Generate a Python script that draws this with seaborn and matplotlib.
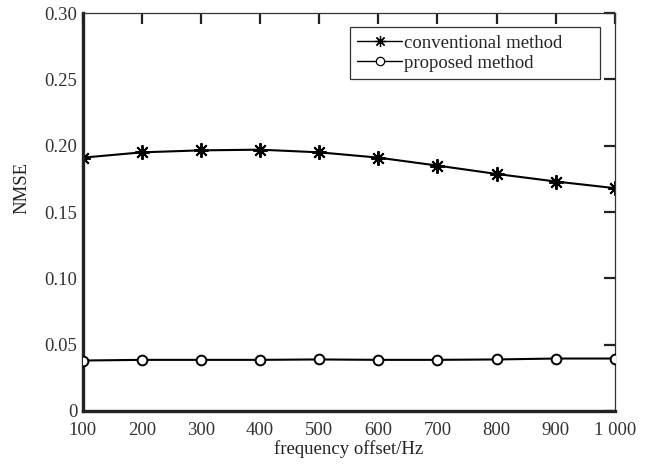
import matplotlib
matplotlib.use("Agg")
import matplotlib.pyplot as plt
import seaborn as sns
import pandas as pd

freq = [100, 200, 300, 400, 500, 600, 700, 800, 900, 1000]
conventional = [0.191, 0.195, 0.1965, 0.197, 0.195, 0.191, 0.185, 0.1787, 0.173, 0.168]
proposed = [0.038, 0.0385, 0.0385, 0.0385, 0.0388, 0.0385, 0.0385, 0.0388, 0.0395, 0.0395]
xtick_labels = ["100", "200", "300", "400", "500", "600", "700", "800", "900", "1 000"]
yticks = [0, 0.05, 0.10, 0.15, 0.20, 0.25, 0.30]
ytick_labels = ["0", "0.05", "0.10", "0.15", "0.20", "0.25", "0.30"]

df = pd.DataFrame({
    "freq": freq * 2,
    "nmse": conventional + proposed,
    "method": ["conventional method"] * len(freq) + ["proposed method"] * len(freq),
})

sns.set_style("white")
plt.rcParams['font.family'] = ['Liberation Serif', 'DejaVu Serif']

fig = plt.figure(figsize=(6.52, 4.68), dpi=100)
ax = fig.add_axes([0.127, 0.122, 0.816, 0.850])

sns.lineplot(data=df, x="freq", y="nmse", style="method", hue="method",
             palette=["black", "black"], markers=["o", "o"], dashes=False,
             linewidth=1.5, ax=ax)

# matlab style markers: asterisk and open circle
asterisk = (8, 2, 0)
for line, lab in zip(ax.lines[:2], ["conventional method", "proposed method"]):
    line.set_color("black")
    line.set_markeredgecolor("black")
    line.set_markeredgewidth(1.4)
    if lab == "conventional method":
        line.set_marker(asterisk)
        line.set_markersize(10.5)
    else:
        line.set_marker("o")
        line.set_markerfacecolor("white")
        line.set_markersize(7)
        line.set_zorder(3)

ax.set_xlim(100, 1000)
ax.set_ylim(0, 0.30)
ax.set_xticks(freq)
ax.set_xticklabels(xtick_labels)
ax.set_yticks(yticks)
ax.set_yticklabels(ytick_labels)
ax.tick_params(direction="in", length=8, width=1.6, top=True, right=True,
               labelsize=13.5, colors="#222222", labelcolor="#333333")
ax.tick_params(axis="x", pad=8)
ax.tick_params(axis="y", pad=4)

for side in ["left", "bottom"]:
    ax.spines[side].set_linewidth(2.4)
    ax.spines[side].set_color("#222222")
for side in ["top", "right"]:
    ax.spines[side].set_linewidth(0.9)
    ax.spines[side].set_color("#333333")

ax.set_xlabel("frequency offset/Hz", fontsize=13.5, labelpad=1, color="#222222")
ax.set_ylabel("NMSE", fontsize=13.5, color="#222222")
ax.yaxis.set_label_coords(-0.099, 0.56)

ax.get_legend().remove()
h, l = ax.get_legend_handles_labels()
leg = ax.legend(h, l, loc="upper left", bbox_to_anchor=(0.502, 0.5, 0.47, 0.465),
                mode="expand", fontsize=13.5, frameon=True, fancybox=False,
                handlelength=2.4, handletextpad=0.1, borderpad=0.4,
                labelspacing=0.15, borderaxespad=0)
leg.get_frame().set_edgecolor("black")
leg.get_frame().set_linewidth(0.9)
for hd, lab in zip(leg.legend_handles, l):
    hd.set_color("black")
    hd.set_linewidth(1.0)
    hd.set_markeredgecolor("black")
    hd.set_markeredgewidth(0.9)
    if lab == "conventional method":
        hd.set_marker(asterisk)
        hd.set_markersize(8)
    else:
        hd.set_marker("o")
        hd.set_markerfacecolor("white")
        hd.set_markersize(6)

fig.savefig("out.png", dpi=100)
